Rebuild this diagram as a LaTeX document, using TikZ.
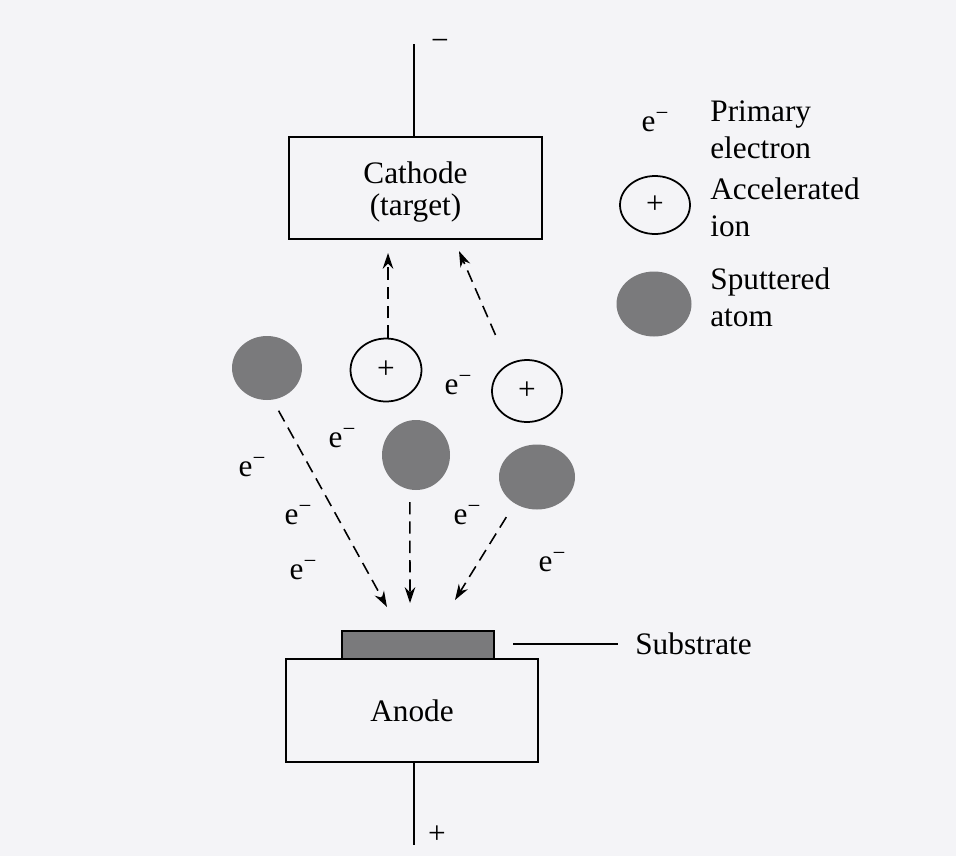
\documentclass[tikz,border=0pt]{standalone}
\usepackage{fontspec}
\setmainfont{Liberation Serif}
\usetikzlibrary{arrows.meta,positioning,shapes.geometric}

\definecolor{paper}{RGB}{244,244,247}
\definecolor{atomgray}{RGB}{122,122,124}
\newcommand{\elc}{e\raisebox{0.36em}{\fontsize{13}{13}\selectfont −}}

\begin{document}
\begin{tikzpicture}[
  x=0.02cm, y=-0.02cm,
  font=\fontsize{17.8}{21}\selectfont,
  box/.style={draw, line width=1pt, inner sep=0pt, align=center},
  ion/.style={draw, ellipse, line width=1pt, inner sep=0pt, minimum width=1.42cm, minimum height=1.26cm},
  atom/.style={ellipse, fill=atomgray, inner sep=0pt},
  elec/.style={inner sep=0pt},
  legtext/.style={anchor=west, align=left, inner sep=0pt},
  arr/.style={-{Stealth[length=9pt,width=6pt]}, line width=0.9pt, dash pattern=on 7pt off 4pt},
  wire/.style={line width=1pt}
]
\useasboundingbox[fill=paper] (0,0) rectangle (956,856);

% electrodes
\node[box, minimum width=5.06cm, minimum height=2.04cm] (cath) at (415.5,188) {};
\node (cathtxt) at (415.5,192) [align=center, inner sep=0pt] {Cathode\\[-3pt](target)};
\node[box, minimum width=5.04cm, minimum height=2.06cm] (anode) at (412,710.5) {Anode};
\node[box, fill=atomgray, minimum width=3.04cm, minimum height=0.56cm] (sub) at (418,645) {};
\coordinate (ctop) at (414,44);
\coordinate (abot) at (414,845);
\draw[wire] (cath.north -| ctop) -- (ctop);
\draw[wire] (anode.south -| abot) -- (abot);
\node[elec] (minus) at (440,45) {−};
\node[elec] (plus) at (437,835) {+};

% substrate label
\node[legtext] (sublbl) at (635,644) {Substrate};
\coordinate (subl) at (513,644);
\coordinate (subr) at (618,644);
\draw[wire] (subl) -- (subr);

% ions and sputtered atoms
\node[ion] (ion1) at (386,370) {+};
\node[ion, minimum width=1.40cm, minimum height=1.24cm] (ion2) at (527,391) {+};
\node[atom, minimum width=1.40cm, minimum height=1.28cm] (atom1) at (267,368) {};
\node[atom, minimum width=1.36cm, minimum height=1.40cm] (atom2) at (416,455) {};
\node[atom, minimum width=1.52cm, minimum height=1.30cm] (atom3) at (537,477) {};

% electrons
\node[elec] (e1) at (458,385) {\elc};
\node[elec] (e2) at (342,438) {\elc};
\node[elec] (e3) at (252,467) {\elc};
\node[elec] (e4) at (298,515) {\elc};
\node[elec] (e5) at (303,570) {\elc};
\node[elec] (e6) at (467,515) {\elc};
\node[elec] (e7) at (552,562) {\elc};

% ion paths to the target
\coordinate (hit1) at (388,253);
\coordinate (hit2) at (459,251);
\draw[arr] (ion1.north -| hit1) -- (hit1);
\draw[arr, shorten <=18pt] (ion2.125) -- (hit2);

% atom paths to the substrate
\coordinate (dep1) at (387,607);
\coordinate (dep2) at (410,603);
\coordinate (dep3) at (455,600);
\draw[arr, shorten <=7pt] (atom1.-80) -- (dep1);
\draw[arr, shorten <=7pt] (atom2.-100) -- (dep2);
\draw[arr, shorten <=9pt] (atom3.230) -- (dep3);

% legend
\node[elec] (le) at (655,122) {\elc};
\node[legtext] (lte) at (710,129.5) {Primary\\electron};
\node[ion, minimum width=1.40cm, minimum height=1.16cm] (lion) at (655,205) {+};
\node[legtext] (lti) at (710,207) {Accelerated\\ion};
\node[atom, minimum width=1.50cm, minimum height=1.30cm] (latom) at (654,304) {};
\node[legtext] (lta) at (710,297.5) {Sputtered\\atom};
\end{tikzpicture}
\end{document}
